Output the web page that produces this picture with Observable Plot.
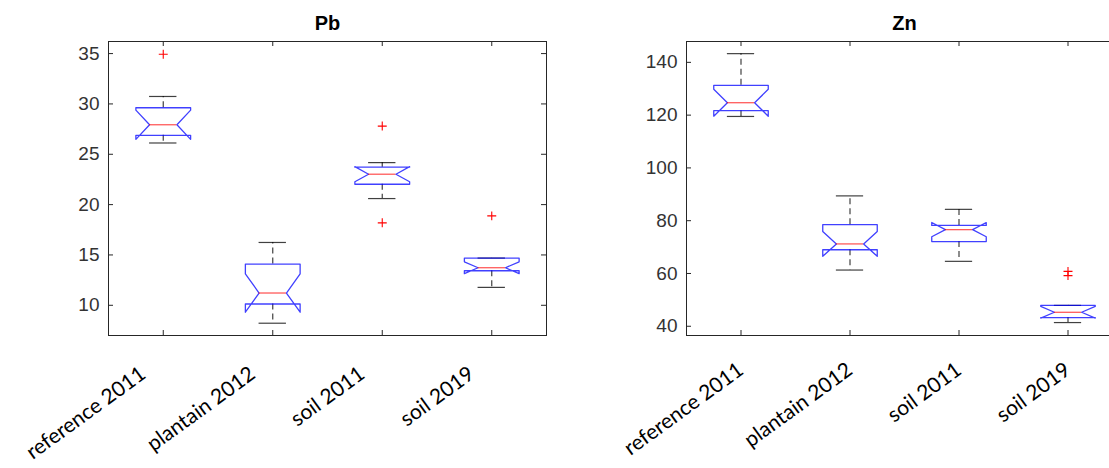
<!DOCTYPE html>
<html><head><meta charset="utf-8">
<script src="https://cdn.jsdelivr.net/npm/d3@7"></script>
<script src="https://cdn.jsdelivr.net/npm/@observablehq/plot@0.6"></script>
<style>
html,body{margin:0;padding:0;background:#fff;overflow:hidden;width:1109px;height:468px;}
#wrap{position:relative;width:1109px;height:468px;overflow:hidden;}
.panel{position:absolute;top:0;}
</style></head><body><div id="wrap"></div>
<script>
const categories = ["reference 2011", "plantain 2012", "soil 2011", "soil 2019"];

// Pb
const pbQ1 = [26.88, 10.13, 22.02, 13.43];
const pbMedian = [27.93, 11.22, 23.02, 13.73];
const pbQ3 = [29.62, 14.09, 23.72, 14.69];
const pbWhiskerLo = [26.12, 8.22, 20.6, 11.78];
const pbWhiskerHi = [30.74, 16.24, 24.17, 14.69];
const pbNotchLo = [26.48, 9.31, 22.27, 13.14];
const pbNotchHi = [29.38, 13.13, 23.77, 14.32];
const pbOutlierCat = [1, 3, 3, 4];
const pbOutlierVal = [34.93, 27.8, 18.19, 18.88];
const pbTicks = [10, 15, 20, 25, 30, 35];

// Zn
const znQ1 = [121.7, 69.0, 72.1, 43.3];
const znMedian = [124.7, 71.2, 76.6, 45.3];
const znQ3 = [131.3, 78.5, 78.2, 47.9];
const znWhiskerLo = [119.5, 61.3, 64.6, 41.4];
const znWhiskerHi = [143.3, 89.4, 84.3, 47.9];
const znNotchLo = [119.6, 66.5, 73.9, 43.1];
const znNotchHi = [129.8, 75.9, 79.3, 47.5];
const znOutlierCat = [4, 4];
const znOutlierVal = [60.8, 59.2];
const znTicks = [40, 60, 80, 100, 120, 140];

const H = 468, MT = 41, MB = 133;

function panel(o) {
  const rows = categories.map((c, k) => ({
    i: k + 1, cat: c, q1: o.q1[k], med: o.med[k], q3: o.q3[k],
    lo: o.wLo[k], hi: o.wHi[k], nlo: o.nLo[k], nhi: o.nHi[k]
  }));
  const idx = rows.map(r => r.i);
  const hw = 0.25, qw = 0.125;
  const notchPts = rows.flatMap(r => [
    [r.i - hw, r.q3], [r.i + hw, r.q3], [r.i + hw, r.nhi], [r.i + qw, r.med],
    [r.i + hw, r.nlo], [r.i + hw, r.q1], [r.i - hw, r.q1], [r.i - hw, r.nlo],
    [r.i - qw, r.med], [r.i - hw, r.nhi]
  ].map(([x, y]) => ({i: r.i, x, y})));
  const outliers = o.oCat.map((c, k) => ({i: c, v: o.oVal[k]}));
  const plotW = o.width - o.marginLeft - o.marginRight;
  const plotH = H - MT - MB;
  const axisColor = "#262626";
  return Plot.plot({
    width: o.width, height: H,
    marginTop: MT, marginBottom: MB, marginLeft: o.marginLeft, marginRight: o.marginRight,
    style: {fontFamily: "'Liberation Sans', Arial, sans-serif", fontSize: "19px", background: "transparent", overflow: "visible"},
    x: {domain: [0.5, 4.5], axis: null},
    y: {domain: o.yDomain},
    marks: [
      Plot.axisY(o.ticks, {tickSize: 0, tickPadding: 9, fontSize: 19, fill: "#333", color: axisColor}),
      Plot.tickY(o.ticks, {y: d => d, insetRight: plotW - 5, stroke: axisColor}),
      Plot.tickY(o.ticks, {y: d => d, insetLeft: plotW - 5, stroke: axisColor}),
      Plot.tickX(idx, {x: d => d, insetTop: plotH - 5, stroke: axisColor}),
      Plot.tickX(idx, {x: d => d, insetBottom: plotH - 5, stroke: axisColor}),
      Plot.frame({stroke: axisColor, strokeWidth: 1}),
      Plot.ruleX(rows, {x: "i", y1: "q3", y2: "hi", stroke: "#000", strokeDasharray: "6,4", strokeOpacity: 0.75, strokeWidth: 1.2}),
      Plot.ruleX(rows, {x: "i", y1: "q1", y2: "lo", stroke: "#000", strokeDasharray: "6,4", strokeOpacity: 0.75, strokeWidth: 1.2}),
      Plot.ruleY(rows, {y: "hi", x1: r => r.i - qw, x2: r => r.i + qw, stroke: "#000", strokeOpacity: 0.75, strokeWidth: 1.2}),
      Plot.ruleY(rows, {y: "lo", x1: r => r.i - qw, x2: r => r.i + qw, stroke: "#000", strokeOpacity: 0.75, strokeWidth: 1.2}),
      Plot.line(notchPts, {x: "x", y: "y", z: "i", curve: "linear-closed", stroke: "#0000ff", strokeWidth: 1.3, strokeOpacity: 0.75}),
      Plot.ruleY(rows, {y: "med", x1: r => r.i - qw, x2: r => r.i + qw, stroke: "#ff0000", strokeOpacity: 0.7, strokeWidth: 1.2}),
      Plot.dot(outliers, {x: "i", y: "v", symbol: "plus", stroke: "#ff0000", r: 3, strokeWidth: 1.1}),
      Plot.text(rows, {x: "i", text: "cat", frameAnchor: "bottom", lineAnchor: "middle", textAnchor: "end",
        rotate: -36, dx: o.labelDx, dy: o.labelDy, fontSize: 21, fontFamily: "Lato, 'Open Sans', sans-serif", fill: "#000"}),
      Plot.text([o.title], {frameAnchor: "top", lineAnchor: "middle", dy: -18, fontSize: 20, fontWeight: "bold",
        fontFamily: "'Liberation Sans', Arial, sans-serif", fill: "#000"})
    ]
  });
}

const wrap = document.getElementById("wrap");

const pb = panel({
  title: "Pb", q1: pbQ1, med: pbMedian, q3: pbQ3, wLo: pbWhiskerLo, wHi: pbWhiskerHi,
  nLo: pbNotchLo, nHi: pbNotchHi, oCat: pbOutlierCat, oVal: pbOutlierVal, ticks: pbTicks,
  yDomain: [7.0, 36.2], width: 560, marginLeft: 108, marginRight: 14, labelDx: -20, labelDy: 36
});
pb.classList.add("panel");
pb.style.left = "0px";
wrap.appendChild(pb);

const zn = panel({
  title: "Zn", q1: znQ1, med: znMedian, q3: znQ3, wLo: znWhiskerLo, wHi: znWhiskerHi,
  nLo: znNotchLo, nHi: znNotchHi, oCat: znOutlierCat, oVal: znOutlierVal, ticks: znTicks,
  yDomain: [36.5, 147.9], width: 562, marginLeft: 126, marginRight: 0, labelDx: 0, labelDy: 32
});
zn.classList.add("panel");
zn.style.left = "560px";
wrap.appendChild(zn);
</script>
</body></html>
